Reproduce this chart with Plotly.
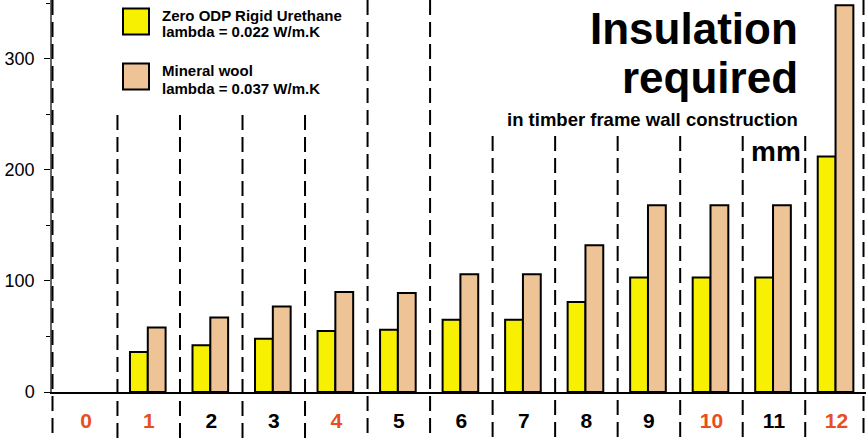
import plotly.graph_objects as go

# ---- data -------------------------------------------------------------
categories = list(range(13))
tick_labels = [str(c) for c in categories]
urethane_mm = [None, 36, 42, 48, 55, 56, 65, 65, 81, 103, 103, 103, 212]
mineral_wool_mm = [None, 58, 67, 77, 90, 89, 106, 106, 132, 168, 168, 168, 348]
highlighted = [0, 1, 4, 10, 12]
y_ticks = [0, 100, 200, 300]

# ---- page geometry ----------------------------------------------------
W, H = 866, 438
ML, MR, MT, MB = 52, 0, 0, 46
PW = W - ML - MR
PH = H - MT - MB
FONT = "Liberation Sans, Arial, sans-serif"
YELLOW = "#F7F000"
TAN = "#EEC395"
ORANGE = "#E84E24"


def px_x(px):
    return (px - ML) / PW


def px_y(py):
    return (H - MB - py) / PH


def text_at(text, x_px, baseline_px, size, anchor):
    # centre of the text box sits 0.3465 em above the baseline
    return dict(
        text=text, xref="paper", yref="paper",
        x=px_x(x_px), y=px_y(baseline_px - 0.3465 * size),
        xanchor=anchor, yanchor="middle", showarrow=False,
        font=dict(family=FONT, size=size, color="#000", weight="bold"),
    )


fig = go.Figure()
fig.add_bar(
    x=categories, y=urethane_mm, width=0.285, offset=-0.30,
    marker=dict(color=YELLOW, line=dict(color="#000", width=2)),
    name="Zero ODP Rigid Urethane", showlegend=False,
)
fig.add_bar(
    x=categories, y=mineral_wool_mm, width=0.285, offset=-0.015,
    marker=dict(color=TAN, line=dict(color="#000", width=2)),
    name="Mineral wool", showlegend=False,
)

tick_text = [
    f'<span style="color:{ORANGE}">{t}</span>' if c in highlighted else t
    for c, t in zip(categories, tick_labels)
]

# ---- dashed column dividers --------------------------------------------
dash = "15px,7px"
divider_tops = [115, 115, 115, 115, 0, 0, 136, 136, 136, 136, 136, 136]
shapes = []
for i, top in enumerate(divider_tops):
    shapes.append(dict(
        type="line", xref="x", yref="paper",
        x0=i + 0.5, x1=i + 0.5, y0=px_y(top), y1=px_y(H),
        line=dict(color="#000", width=2, dash=dash),
    ))
for xp in (px_x(52.5), px_x(863.5)):
    shapes.append(dict(
        type="line", xref="paper", yref="paper",
        x0=xp, x1=xp, y0=px_y(0), y1=px_y(H),
        line=dict(color="#000", width=2, dash=dash),
    ))

# ---- legend swatches -----------------------------------------------------
for top, colour in ((8.5, YELLOW), (63.5, TAN)):
    shapes.append(dict(
        type="rect", xref="paper", yref="paper",
        x0=px_x(123), x1=px_x(149), y0=px_y(top), y1=px_y(top + 26),
        fillcolor=colour, line=dict(color="#000", width=2),
    ))

annotations = [
    text_at("Zero ODP Rigid Urethane", 159.5, 20.7, 15, "left"),
    text_at("lambda = 0.022 W/m.K", 159.5, 36.7, 15, "left"),
    text_at("Mineral wool", 159.5, 76, 15, "left"),
    text_at("lambda = 0.037 W/m.K", 159.5, 93.3, 15, "left"),
    text_at("Insulation", 800, 44, 44, "right"),
    text_at("required", 799.5, 93, 44, "right"),
    text_at("in timber frame wall construction", 800.3, 125.5, 18.5, "right"),
    text_at("mm", 803, 161.7, 28, "right"),
]

fig.update_layout(
    width=W, height=H,
    margin=dict(l=ML, r=MR, t=MT, b=MB, pad=0),
    paper_bgcolor="#FFFFFF", plot_bgcolor="#FFFFFF",
    barmode="overlay",
    font=dict(family=FONT, color="#000"),
    shapes=shapes,
    annotations=annotations,
    xaxis=dict(
        range=[-0.547, 12.472],
        tickmode="array", tickvals=categories, ticktext=tick_text,
        ticks="", showgrid=False, zeroline=False,
        showline=True, linecolor="#000", linewidth=1.5,
        tickfont=dict(family=FONT, size=21, color="#000", weight="bold"),
        ticklabelstandoff=9,
    ),
    yaxis=dict(
        range=[0, 352.8],
        tickmode="array", tickvals=y_ticks,
        ticks="outside", ticklen=6, tickwidth=1, tickcolor="#000",
        minor=dict(dtick=50, ticks="outside", ticklen=4, tickwidth=1, tickcolor="#000"),
        showgrid=False, zeroline=False,
        showline=True, linecolor="#666", linewidth=1.5,
        tickfont=dict(family=FONT, size=18, color="#000"),
        ticklabelstandoff=6,
    ),
)

fig.write_html("out.html")
